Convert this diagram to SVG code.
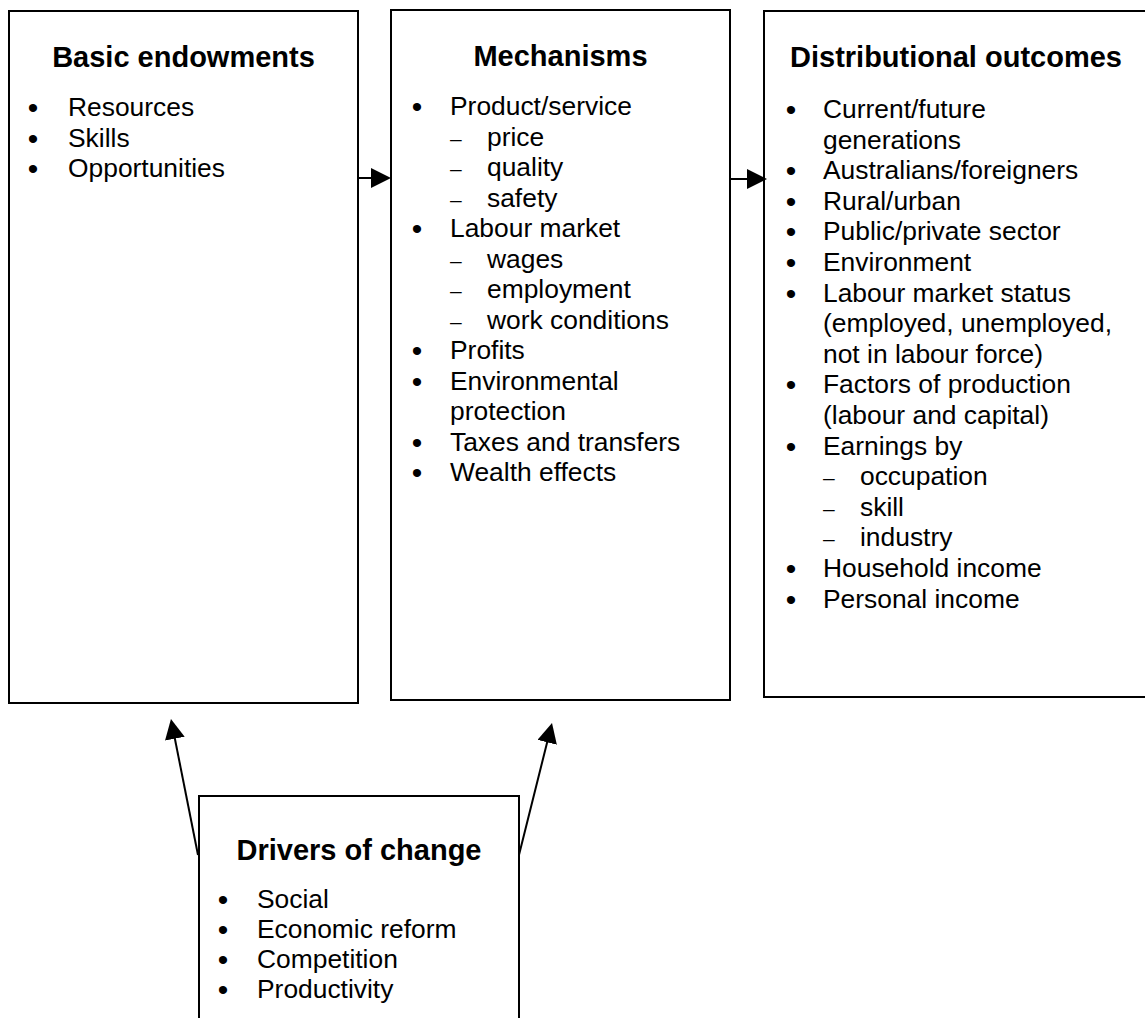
<svg xmlns="http://www.w3.org/2000/svg" width="1145" height="1018" viewBox="0 0 1145 1018">
  <style>
    .box { fill: #ffffff; stroke: #000000; stroke-width: 2; }
    .title { font-family: "Liberation Sans", Arial, sans-serif; font-size: 29px; font-weight: bold; fill: #000000; text-anchor: middle; }
    .item { font-family: "Liberation Sans", Arial, sans-serif; font-size: 26.4px; fill: #000000; }
    .bullet { font-family: "Liberation Sans", Arial, sans-serif; font-size: 30px; fill: #000000; text-anchor: middle; }
    .dash { font-family: "Liberation Sans", Arial, sans-serif; font-size: 21px; fill: #000000; }
    .conn { stroke: #000000; stroke-width: 2; fill: none; marker-end: url(#head); }
  </style>
  <defs>
    <marker id="head" markerUnits="userSpaceOnUse" viewBox="0 0 20 20" refX="8" refY="10" markerWidth="20" markerHeight="20" orient="auto">
      <path d="M0,0 L20,10 L0,20 Z" fill="#000000"/>
    </marker>
  </defs>
  <rect x="0" y="0" width="1145" height="1018" fill="#ffffff"/>

  <!-- Basic endowments -->
  <g id="basic-endowments">
    <rect class="box" x="9" y="11" width="349" height="692"/>
    <text class="title" x="183.5" y="67">Basic endowments</text>
    <text class="bullet" x="33" y="118">•</text><text class="item" x="68" y="116">Resources</text>
    <text class="bullet" x="33" y="148.5">•</text><text class="item" x="68" y="146.5">Skills</text>
    <text class="bullet" x="33" y="179">•</text><text class="item" x="68" y="177">Opportunities</text>
  </g>

  <!-- Mechanisms -->
  <g id="mechanisms">
    <rect class="box" x="391" y="10" width="339" height="690"/>
    <text class="title" x="560.5" y="66">Mechanisms</text>
    <text class="bullet" x="417" y="117">•</text><text class="item" x="450" y="115">Product/service</text>
    <text class="dash" x="450" y="145.5">–</text><text class="item" x="487" y="145.5">price</text>
    <text class="dash" x="450" y="176">–</text><text class="item" x="487" y="176">quality</text>
    <text class="dash" x="450" y="206.5">–</text><text class="item" x="487" y="206.5">safety</text>
    <text class="bullet" x="417" y="239">•</text><text class="item" x="450" y="237">Labour market</text>
    <text class="dash" x="450" y="267.5">–</text><text class="item" x="487" y="267.5">wages</text>
    <text class="dash" x="450" y="298">–</text><text class="item" x="487" y="298">employment</text>
    <text class="dash" x="450" y="328.5">–</text><text class="item" x="487" y="328.5">work conditions</text>
    <text class="bullet" x="417" y="361">•</text><text class="item" x="450" y="359">Profits</text>
    <text class="bullet" x="417" y="391.5">•</text><text class="item" x="450" y="389.5">Environmental</text>
    <text class="item" x="450" y="420">protection</text>
    <text class="bullet" x="417" y="452.5">•</text><text class="item" x="450" y="450.5">Taxes and transfers</text>
    <text class="bullet" x="417" y="483">•</text><text class="item" x="450" y="481">Wealth effects</text>
  </g>

  <!-- Distributional outcomes -->
  <g id="distributional-outcomes">
    <rect class="box" x="764" y="11" width="384" height="686"/>
    <text class="title" x="956" y="67">Distributional outcomes</text>
    <text class="bullet" x="791" y="120">•</text><text class="item" x="823" y="118">Current/future</text>
    <text class="item" x="823" y="148.6">generations</text>
    <text class="bullet" x="791" y="181.2">•</text><text class="item" x="823" y="179.2">Australians/foreigners</text>
    <text class="bullet" x="791" y="211.8">•</text><text class="item" x="823" y="209.8">Rural/urban</text>
    <text class="bullet" x="791" y="242.4">•</text><text class="item" x="823" y="240.4">Public/private sector</text>
    <text class="bullet" x="791" y="273">•</text><text class="item" x="823" y="271">Environment</text>
    <text class="bullet" x="791" y="303.6">•</text><text class="item" x="823" y="301.6">Labour market status</text>
    <text class="item" x="823" y="332.2">(employed, unemployed,</text>
    <text class="item" x="823" y="362.8">not in labour force)</text>
    <text class="bullet" x="791" y="395.4">•</text><text class="item" x="823" y="393.4">Factors of production</text>
    <text class="item" x="823" y="424">(labour and capital)</text>
    <text class="bullet" x="791" y="456.6">•</text><text class="item" x="823" y="454.6">Earnings by</text>
    <text class="dash" x="823" y="485.2">–</text><text class="item" x="860" y="485.2">occupation</text>
    <text class="dash" x="823" y="515.8">–</text><text class="item" x="860" y="515.8">skill</text>
    <text class="dash" x="823" y="546.4">–</text><text class="item" x="860" y="546.4">industry</text>
    <text class="bullet" x="791" y="579">•</text><text class="item" x="823" y="577">Household income</text>
    <text class="bullet" x="791" y="609.6">•</text><text class="item" x="823" y="607.6">Personal income</text>
  </g>

  <!-- Drivers of change -->
  <g id="drivers-of-change">
    <rect class="box" x="199" y="796" width="320" height="240"/>
    <text class="title" x="359" y="860">Drivers of change</text>
    <text class="bullet" x="223" y="910">•</text><text class="item" x="257" y="908">Social</text>
    <text class="bullet" x="223" y="940">•</text><text class="item" x="257" y="938">Economic reform</text>
    <text class="bullet" x="223" y="970">•</text><text class="item" x="257" y="968">Competition</text>
    <text class="bullet" x="223" y="1000">•</text><text class="item" x="257" y="998">Productivity</text>
  </g>

  <!-- Connectors -->
  <g id="connectors">
    <line class="conn" x1="358" y1="178" x2="379" y2="178"/>
    <line class="conn" x1="731" y1="179" x2="755" y2="179"/>
    <line class="conn" x1="198" y1="855" x2="173.3" y2="730.8"/>
    <line class="conn" x1="519" y1="855" x2="549.1" y2="734.6"/>
  </g>
</svg>
